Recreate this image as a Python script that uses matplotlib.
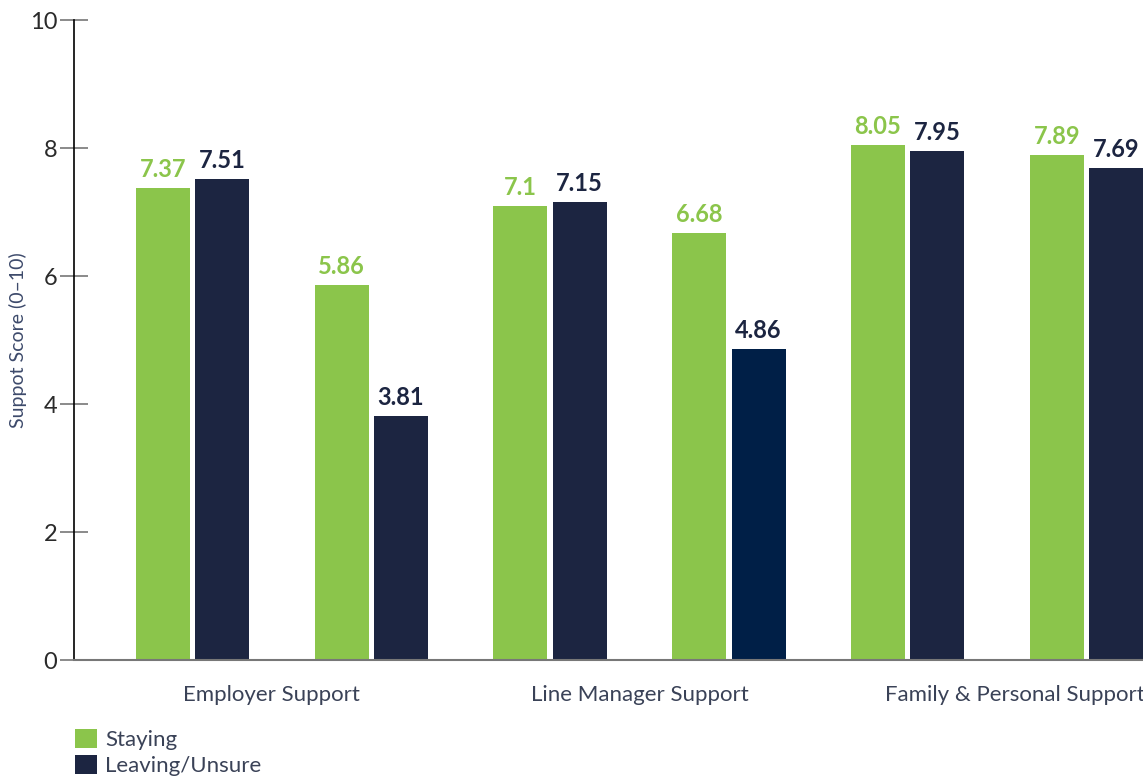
import matplotlib.pyplot as plt
import numpy as np

plt.rcParams['font.family'] = ['Lato', 'DejaVu Sans']

# two measures per support type, staying vs leaving/unsure
categories = ["Employer Support", "Line Manager Support", "Family & Personal Support"]
staying = [7.37, 5.86, 7.1, 6.68, 8.05, 7.89]
leaving = [7.51, 3.81, 7.15, 4.86, 7.95, 7.69]
leaving_colors = ["#1c2541", "#1c2541", "#1c2541", "#001f47", "#1c2541", "#1c2541"]
series_names = ["Staying", "Leaving/Unsure"]

green = "#8bc54b"
navy = "#1c2541"

fig = plt.figure(figsize=(11.43, 7.8), dpi=100)
ax = fig.add_axes([0.0647, 0.1538, 0.9353, 0.8205])

x = np.arange(len(staying))
w = 0.302
off = 0.166
b1 = ax.bar(x - off, staying, w, color=green, label=series_names[0])
b2 = ax.bar(x + off, leaving, w, color=leaving_colors, label=series_names[1])

for rect, v in zip(b1, staying):
    ax.annotate(f"{v:g}", (rect.get_x() + rect.get_width() / 2, v), xytext=(0, 5),
                textcoords="offset points", ha="center", va="bottom",
                fontsize=17, fontweight="bold", color=green)
for rect, v in zip(b2, leaving):
    ax.annotate(f"{v:g}", (rect.get_x() + rect.get_width() / 2, v), xytext=(0, 5),
                textcoords="offset points", ha="center", va="bottom",
                fontsize=17, fontweight="bold", color=navy)

ax.set_xlim(-0.663, 5.316)
ax.set_ylim(0, 10)
ax.set_yticks([0, 2, 4, 6, 8, 10])
ax.tick_params(axis="y", direction="inout", length=20, width=1.2, color="#777777",
               labelsize=17, labelcolor="#2a2a2a", pad=2)
ax.set_xticks([0.44, 2.5, 4.6])
ax.set_xticklabels(categories, fontsize=16, color="#3a4257")
ax.tick_params(axis="x", length=0, pad=18)

for s in ["top", "right"]:
    ax.spines[s].set_visible(False)
ax.spines["left"].set_color("black")
ax.spines["left"].set_linewidth(1.2)
ax.spines["bottom"].set_color("#777777")
ax.spines["bottom"].set_linewidth(1.5)

ax.set_ylabel("Suppot Score (0–10)", fontsize=14, color="#3d4a6b")
ax.yaxis.set_label_coords(-0.044, 0.5)

fig.legend(handles=[b1, b2], labels=series_names, loc="upper left",
           bbox_to_anchor=(0.066, 0.066), frameon=False, fontsize=16,
           handlelength=0.95, handleheight=0.95, handletextpad=0.4,
           labelspacing=0.22, labelcolor="#3a4257", borderaxespad=0,
           borderpad=0)

fig.savefig("out.png", dpi=100)
